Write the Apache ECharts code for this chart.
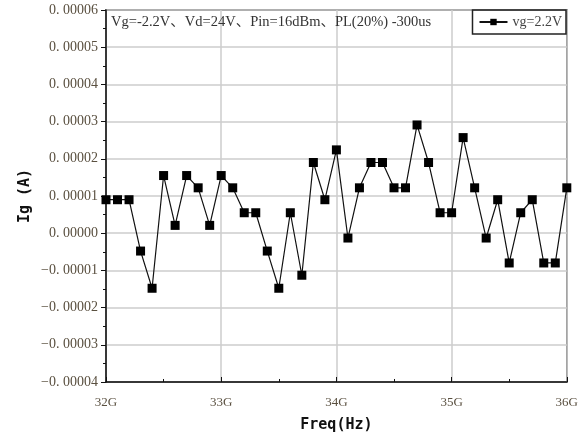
<!DOCTYPE html>
<html><head><meta charset="utf-8">
<script src="https://cdn.jsdelivr.net/npm/echarts@6/dist/echarts.min.js"></script>
<style>html,body{margin:0;padding:0;background:#fff}#c{width:581px;height:438px}</style>
</head><body><div id="c"></div>
<script>
const freqGHz = [32.0,32.1,32.2,32.3,32.4,32.5,32.6,32.7,32.8,32.9,33.0,33.1,33.2,33.3,33.4,33.5,33.6,33.7,33.8,33.9,34.0,34.1,34.2,34.3,34.4,34.5,34.6,34.7,34.8,34.9,35.0,35.1,35.2,35.3,35.4,35.5,35.6,35.7,35.8,35.9,36.0];
const igValues = [0.0000090,0.0000090,0.0000090,-0.0000048,-0.0000148,0.0000155,0.0000021,0.0000155,0.0000122,0.0000021,0.0000155,0.0000122,0.0000055,0.0000055,-0.0000048,-0.0000148,0.0000055,-0.0000113,0.0000190,0.0000090,0.0000224,-0.0000013,0.0000122,0.0000190,0.0000190,0.0000122,0.0000122,0.0000291,0.0000190,0.0000055,0.0000055,0.0000257,0.0000122,-0.0000013,0.0000090,-0.0000080,0.0000055,0.0000090,-0.0000080,-0.0000080,0.0000122];
const seriesName = 'vg=2.2V';
const annotation = 'Vg=-2.2V、Vd=24V、Pin=16dBm、PL(20%) -300us';
const serif = "'Liberation Serif','DejaVu Serif','Noto Sans CJK SC',serif";
const bold = "'DejaVu Sans Mono','Noto Sans CJK SC',monospace";

const chart = echarts.init(document.getElementById('c'));
chart.setOption({
  animation:false,
  backgroundColor:'#fff',
  grid:{left:106,right:14,top:10,bottom:55,show:true,borderColor:'#222',borderWidth:1.5,backgroundColor:'transparent'},
  title:{text:annotation,left:106,top:10,textStyle:{fontFamily:serif,fontSize:14.5,fontWeight:'normal',color:'#333'}},
  legend:{data:[seriesName],right:15,top:10,itemWidth:28,itemHeight:8,itemGap:4,
    borderColor:'#222',borderWidth:1.5,padding:[5,4,5,6],
    textStyle:{fontFamily:serif,fontSize:14,color:'#444'}},
  xAxis:{type:'value',min:32,max:36,interval:1,
    name:'Freq(Hz)',nameLocation:'middle',nameGap:36,
    nameTextStyle:{fontFamily:bold,fontWeight:'bold',fontSize:15,color:'#111'},
    axisLine:{onZero:false,lineStyle:{color:'#111',width:1.5}},
    axisTick:{show:true,inside:true,length:5,lineStyle:{color:'#111'}},
    minorTick:{show:true,splitNumber:2,length:3,lineStyle:{color:'#111'}},
    splitLine:{show:true,lineStyle:{color:'#ccc',width:1.5}},
    axisLabel:{formatter:v=>v+'G',fontFamily:serif,fontSize:13,color:'#5a5040',margin:14}},
  yAxis:{type:'value',min:-0.00004,max:0.00006,interval:0.00001,
    name:'Ig (A)',nameLocation:'middle',nameGap:73,nameRotate:90,nameMoveOverlap:false,
    nameTextStyle:{fontFamily:bold,fontWeight:'bold',fontSize:15,color:'#111'},
    axisLine:{show:true,onZero:false,lineStyle:{color:'#111',width:1.5}},
    axisTick:{show:true,length:5,lineStyle:{color:'#111'}},
    minorTick:{show:true,splitNumber:2,length:3,lineStyle:{color:'#111'}},
    splitLine:{show:true,lineStyle:{color:'#ccc',width:1.5}},
    axisLabel:{formatter:v=>{const s=Math.abs(v).toFixed(5).replace('.', '. ');return (v< -1e-12?'−':'')+s;},
      fontFamily:serif,fontSize:14,color:'#5a5040',margin:8}},
  series:[{name:seriesName,type:'line',data:freqGHz.map((f,i)=>[f,igValues[i]]),
    symbol:'rect',symbolSize:9,lineStyle:{color:'#111',width:1.2},itemStyle:{color:'#000'}}]
});
</script></body></html>
